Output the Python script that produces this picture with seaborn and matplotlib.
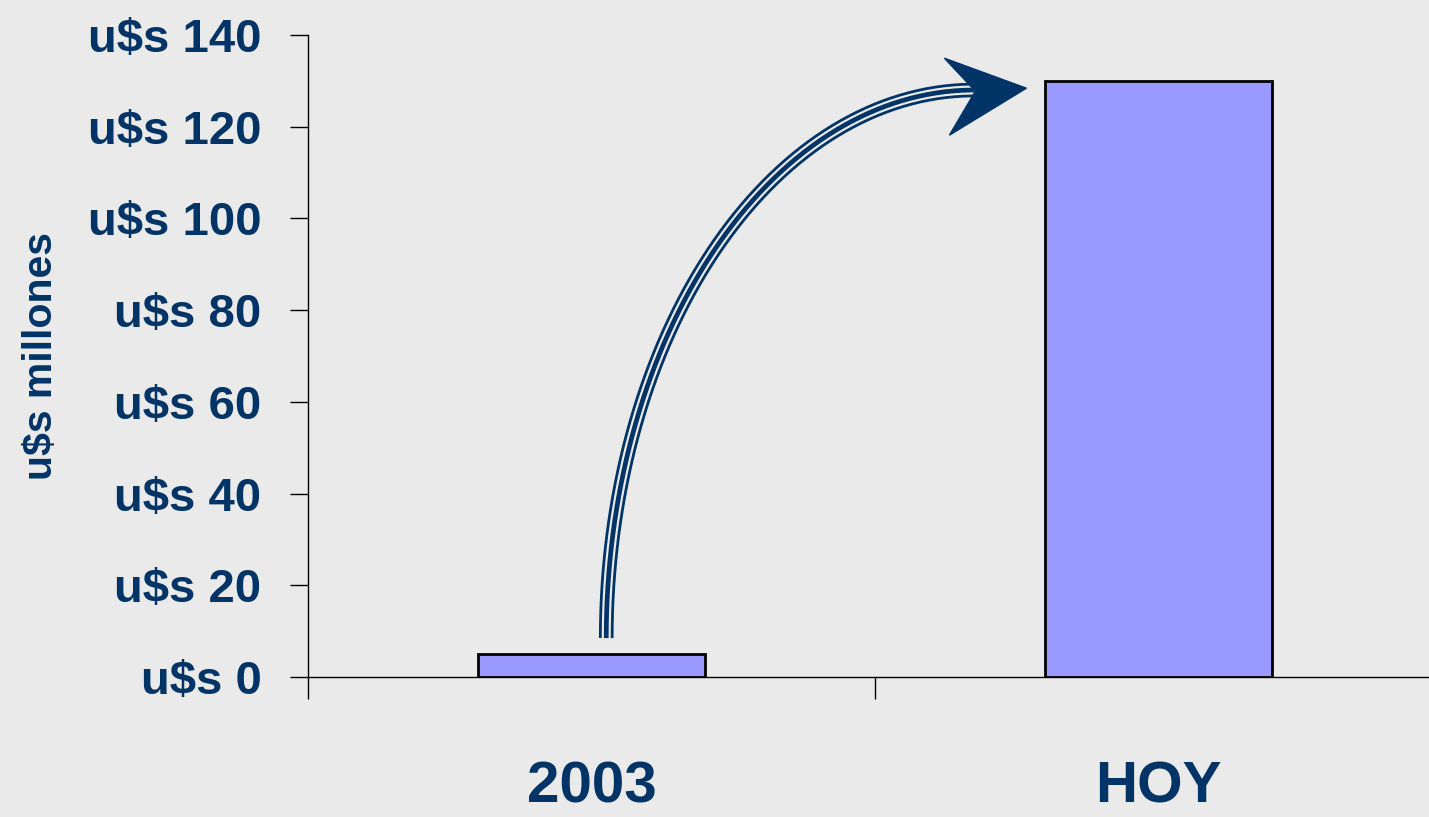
import numpy as np
import matplotlib
matplotlib.use("Agg")
import matplotlib.pyplot as plt
import matplotlib.transforms as mtransforms
from matplotlib.patches import Polygon
import seaborn as sns

# Data
categories = ["2003", "HOY"]
values = [5, 130]
yticks = [0, 20, 40, 60, 80, 100, 120, 140]
ytick_labels = ["u$s %d" % v for v in yticks]
ylabel = "u$s millones"

NAVY = "#003366"
BG = "#EAEAEA"
BAR = "#9999FF"

sns.set_theme(style="white")
plt.rcParams["font.family"] = ["Liberation Sans", "DejaVu Sans"]

fig = plt.figure(figsize=(14.29, 8.17), dpi=100, facecolor=BG)
ax = fig.add_axes([308 / 1429, 1 - 677 / 817, 1 - 308 / 1429, (677 - 35) / 817])
ax.set_facecolor(BG)

sns.barplot(x=categories, y=values, color=BAR, saturation=1, edgecolor="black",
            linewidth=2, width=0.4, ax=ax)

# y axis
ax.set_yticks(yticks)
ax.set_yticklabels(ytick_labels, fontsize=34, fontweight="bold", color=NAVY)
ax.tick_params(axis="y", direction="out", length=13, width=1, color="black", pad=20.5, left=True)
ax.set_ylabel(ylabel, fontsize=29.5, fontweight="bold", color=NAVY)
ax.yaxis.set_label_coords(-0.221, 0.5)

# x axis: ticks at category boundaries, labels at centres
ax.set_xticks([-0.5, 0.5, 1.5])
ax.set_xticklabels([])
ax.set_xticks([0, 1], minor=True)
ax.set_xticklabels(categories, minor=True, fontsize=42, fontweight="bold", color=NAVY)
ax.tick_params(axis="x", which="major", direction="out", length=16, width=1,
               color="black", bottom=True)
ax.tick_params(axis="x", which="minor", length=0, pad=60)
ax.set_xlabel("")

ax.set_ylim(0, 140)
ax.set_xlim(-0.5, (1429 - 308) / 567 - 0.5)

for s in ["top", "right"]:
    ax.spines[s].set_visible(False)
for s in ["left", "bottom"]:
    ax.spines[s].set_color("black")
    ax.spines[s].set_linewidth(1)

# curved growth arrow from the 2003 bar to the HOY bar
x0, y0 = 0.026, values[0] + 3.5
x1, y1 = 0.675, values[1] - 2
t = np.linspace(0, np.pi / 2, 200)
cx = x1 - (x1 - x0) * np.cos(t)
cy = y0 + (y1 - y0) * np.sin(t)
cx = np.append(cx, x1 + 0.01)
cy = np.append(cy, y1 + 0.05)
ax.plot(cx, cy, color=NAVY, lw=10.5, solid_capstyle="butt", zorder=5)
ax.plot(cx, cy, color=BG, lw=6.5, solid_capstyle="butt", zorder=6)
ax.plot(cx, cy, color=NAVY, lw=3.4, solid_capstyle="butt", zorder=7)

tip_x, tip_y = 0.767, y1 + 0.4
head = np.array([[0, 0], [-82, 30], [-51, -3], [-77, -47]])
trans = mtransforms.Affine2D() + mtransforms.ScaledTranslation(tip_x, tip_y, ax.transData)
ax.add_patch(Polygon(head, closed=True, facecolor=NAVY, edgecolor=NAVY,
                     transform=trans, zorder=8, clip_on=False))

fig.savefig("out.png", dpi=100, facecolor=BG)
